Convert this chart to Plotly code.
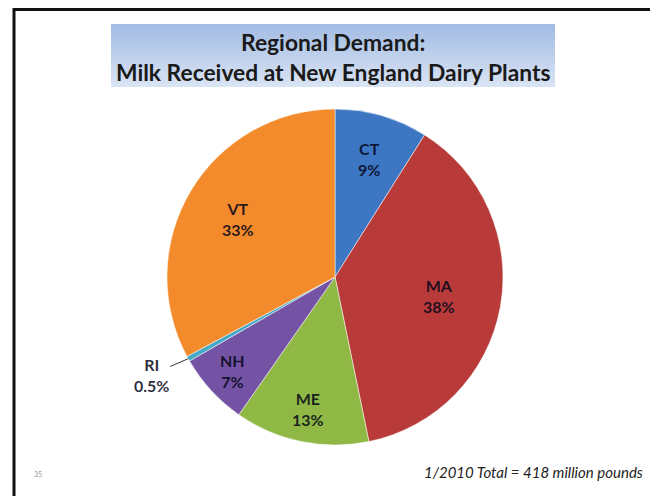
import math
import plotly.graph_objects as go

# milk received at New England dairy plants, 1/2010 (share of total)
states = ["CT", "MA", "ME", "NH", "RI", "VT"]
shares = [9, 38, 13, 7, 0.5, 33]
share_labels = ["9%", "38%", "13%", "7%", "0.5%", "33%"]
slice_colors = ["#3d77c4", "#b83b39", "#8fb845", "#7453a4", "#45a9c8", "#f38b2c"]

title_lines = ["Regional Demand:", "Milk Received at New England Dairy Plants"]
footnote = "1/2010 Total = 418 million pounds"
page_no = "35"

# page has an 8px body margin, so the figure is a bit smaller than the window
OFF = 8
W, H = 658 - OFF, 496 - OFF


def px(x):
    return (x - OFF) / W


def py(y):
    return 1 - (y - OFF) / H


# pie placement (page pixels)
CX, CY, R = 335, 277, 168
pie_x = [px(CX - R), px(CX + R)]
pie_y = [py(CY + R), py(CY - R)]

# how far out along the slice the label sits (fraction of radius)
label_depth = {"CT": 0.73, "MA": 0.63, "ME": 0.80, "NH": 0.83, "VT": 0.67}
label_font = dict(family="Lato", size=16, color="rgba(5,5,25,0.85)")

fig = go.Figure(
    go.Pie(
        labels=states,
        values=shares,
        textinfo="none",
        sort=False,
        direction="clockwise",
        rotation=0,
        marker=dict(colors=slice_colors, line=dict(color="rgba(255,255,255,0.5)", width=1)),
        domain=dict(x=pie_x, y=pie_y),
        showlegend=False,
        hoverinfo="label+value",
    )
)

# slice labels at the middle angle of each slice
total = sum(shares)
cum = 0
for s, v, lab in zip(states, shares, share_labels):
    mid = (cum + v / 2) / total * 2 * math.pi
    cum += v
    if s == "RI":
        # tiny slice: callout outside the pie
        ex = CX + R * math.sin(mid)
        ey = CY - R * math.cos(mid)
        fig.add_annotation(
            x=px(ex), y=py(ey), xref="paper", yref="paper",
            text=f"<b>{s}</b><br><b>{lab}</b>",
            showarrow=True, arrowhead=0, arrowwidth=1, arrowcolor="#333333",
            ax=-37, ay=16,
            font=label_font, align="center",
        )
        continue
    d = label_depth[s] * R
    fig.add_annotation(
        x=px(CX + d * math.sin(mid)), y=py(CY - d * math.cos(mid)),
        xref="paper", yref="paper", showarrow=False,
        xanchor="center", yanchor="middle",
        text=f"<b>{s}</b><br><b>{lab}</b>", font=label_font, align="center",
    )

# title box with a soft vertical gradient
top, bottom = 24, 87
steps = 16
c0 = (164, 189, 228)
c1 = (216, 227, 243)
for i in range(steps):
    t = i / (steps - 1)
    col = tuple(round(a + (b - a) * t) for a, b in zip(c0, c1))
    y_top = top + (bottom - top) * i / steps
    y_bot = min(bottom, top + (bottom - top) * (i + 1) / steps + 1)
    fig.add_shape(
        type="rect", xref="paper", yref="paper",
        x0=px(111), x1=px(555), y0=py(y_bot), y1=py(y_top),
        fillcolor="rgb(%d,%d,%d)" % col, line=dict(width=0), layer="below",
    )

for text, yy in zip(title_lines, [42, 72]):
    fig.add_annotation(
        x=px(333), y=py(yy), xref="paper", yref="paper", showarrow=False,
        xanchor="center", yanchor="middle",
        text=f"<b>{text}</b>", font=dict(family="Lato", size=22.8, color="#1a1a1a"),
    )

fig.add_annotation(
    x=px(645), y=py(472), xref="paper", yref="paper", showarrow=False,
    xanchor="right", yanchor="middle", text=f"<i>{footnote}</i>",
    font=dict(family="Lato", size=15, color="#222222"),
)
fig.add_annotation(
    x=px(38), y=py(474), xref="paper", yref="paper", showarrow=False,
    xanchor="center", yanchor="middle",
    text=page_no, font=dict(family="Lato", size=7, color="#999999"),
)

# slide frame
fig.add_shape(
    type="rect", xref="paper", yref="paper",
    x0=px(14), x1=px(653), y0=-0.02, y1=py(OFF + 1.5),
    line=dict(color="#111111", width=3), fillcolor="rgba(0,0,0,0)",
)

fig.update_layout(
    width=W, height=H,
    margin=dict(l=0, r=0, t=0, b=0),
    paper_bgcolor="white",
    plot_bgcolor="white",
)

fig.write_html("out.html")
